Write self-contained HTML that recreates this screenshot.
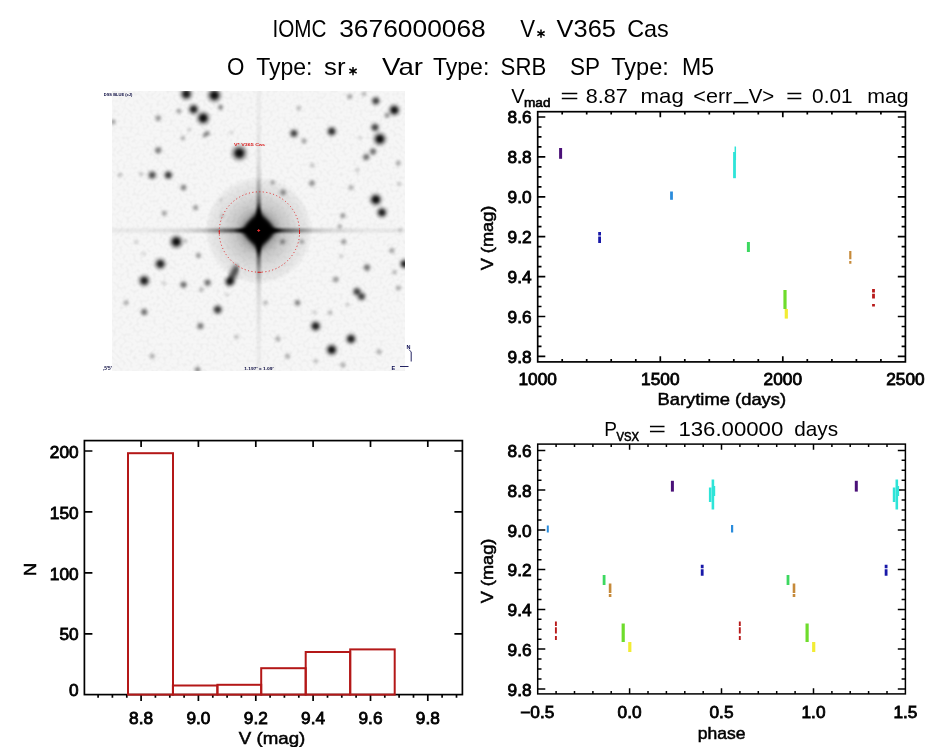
<!DOCTYPE html>
<html><head><meta charset="utf-8"><title>IOMC 3676000068</title>
<style>html,body{margin:0;padding:0;background:#fff}svg{display:block}text{font-family:"Liberation Sans",sans-serif;fill:#000;opacity:.999}</style>
</head><body>
<svg width="944" height="747" viewBox="0 0 944 747">
<rect width="944" height="747" fill="#fff"/>
<text x="272.4" y="37.3" font-size="23.4" textLength="54.0" lengthAdjust="spacingAndGlyphs" stroke="#000" stroke-width="0.0">IOMC</text>
<text x="339.2" y="37.3" font-size="23.4" textLength="146.6" lengthAdjust="spacingAndGlyphs" stroke="#000" stroke-width="0.0">3676000068</text>
<text x="520.2" y="37.3" font-size="23.4" textLength="14.8" lengthAdjust="spacingAndGlyphs" stroke="#000" stroke-width="0.0">V</text>
<path d="M541 29.400000000000002v8.4M537.35 31.50l7.31 4.20M537.35 35.70l7.31 -4.20" stroke="#000" stroke-width="1.5" fill="none"/>
<text x="556.6" y="37.3" font-size="23.4" textLength="59.3" lengthAdjust="spacingAndGlyphs" stroke="#000" stroke-width="0.0">V365</text>
<text x="627.2" y="37.3" font-size="23.4" textLength="41.6" lengthAdjust="spacingAndGlyphs" stroke="#000" stroke-width="0.0">Cas</text>
<text x="227.0" y="74.8" font-size="23.4" textLength="17.4" lengthAdjust="spacingAndGlyphs" stroke="#000" stroke-width="0.0">O</text>
<text x="256.2" y="74.8" font-size="23.4" textLength="56.3" lengthAdjust="spacingAndGlyphs" stroke="#000" stroke-width="0.0">Type:</text>
<text x="324.1" y="74.8" font-size="23.4" textLength="21.5" lengthAdjust="spacingAndGlyphs" stroke="#000" stroke-width="0.0">sr</text>
<path d="M353 66.89999999999999v8.4M349.35 69.00l7.31 4.20M349.35 73.20l7.31 -4.20" stroke="#000" stroke-width="1.5" fill="none"/>
<text x="382.1" y="74.8" font-size="23.4" textLength="41.0" lengthAdjust="spacingAndGlyphs" stroke="#000" stroke-width="0.0">Var</text>
<text x="433.0" y="74.8" font-size="23.4" textLength="56.3" lengthAdjust="spacingAndGlyphs" stroke="#000" stroke-width="0.0">Type:</text>
<text x="500.6" y="74.8" font-size="23.4" textLength="45.6" lengthAdjust="spacingAndGlyphs" stroke="#000" stroke-width="0.0">SRB</text>
<text x="570.1" y="74.8" font-size="23.4" textLength="30.0" lengthAdjust="spacingAndGlyphs" stroke="#000" stroke-width="0.0">SP</text>
<text x="611.2" y="74.8" font-size="23.4" textLength="57.6" lengthAdjust="spacingAndGlyphs" stroke="#000" stroke-width="0.0">Type:</text>
<text x="681.9" y="74.8" font-size="23.4" textLength="32.1" lengthAdjust="spacingAndGlyphs" stroke="#000" stroke-width="0.0">M5</text>
<defs>
<radialGradient id="sg"><stop offset="0" stop-color="#000" stop-opacity="1"/><stop offset="0.3" stop-color="#000" stop-opacity="0.85"/><stop offset="0.6" stop-color="#000" stop-opacity="0.32"/><stop offset="0.85" stop-color="#000" stop-opacity="0.07"/><stop offset="1" stop-color="#000" stop-opacity="0"/></radialGradient>
<radialGradient id="halo"><stop offset="0" stop-color="#000" stop-opacity="0.6"/><stop offset="0.25" stop-color="#000" stop-opacity="0.36"/><stop offset="0.45" stop-color="#000" stop-opacity="0.19"/><stop offset="0.7" stop-color="#000" stop-opacity="0.10"/><stop offset="0.92" stop-color="#000" stop-opacity="0.05"/><stop offset="1" stop-color="#000" stop-opacity="0"/></radialGradient>
<linearGradient id="sph" x1="0" x2="1" y1="0" y2="0"><stop offset="0.0000" stop-color="#000" stop-opacity="0.06"/><stop offset="0.1253" stop-color="#000" stop-opacity="0.06"/><stop offset="0.2447" stop-color="#000" stop-opacity="0.11"/><stop offset="0.3130" stop-color="#000" stop-opacity="0.2"/><stop offset="0.3642" stop-color="#000" stop-opacity="0.4"/><stop offset="0.4119" stop-color="#000" stop-opacity="0.6"/><stop offset="0.4392" stop-color="#000" stop-opacity="0.95"/><stop offset="0.5007" stop-color="#000" stop-opacity="1"/><stop offset="0.5621" stop-color="#000" stop-opacity="0.95"/><stop offset="0.5894" stop-color="#000" stop-opacity="0.6"/><stop offset="0.6372" stop-color="#000" stop-opacity="0.4"/><stop offset="0.6884" stop-color="#000" stop-opacity="0.2"/><stop offset="0.7567" stop-color="#000" stop-opacity="0.11"/><stop offset="0.8761" stop-color="#000" stop-opacity="0.06"/><stop offset="1.0000" stop-color="#000" stop-opacity="0.06"/></linearGradient>
<linearGradient id="spv" x1="0" x2="0" y1="0" y2="1"><stop offset="0.0000" stop-color="#000" stop-opacity="0.045"/><stop offset="0.1054" stop-color="#000" stop-opacity="0.045"/><stop offset="0.2304" stop-color="#000" stop-opacity="0.08"/><stop offset="0.3018" stop-color="#000" stop-opacity="0.14"/><stop offset="0.3554" stop-color="#000" stop-opacity="0.28"/><stop offset="0.3982" stop-color="#000" stop-opacity="0.5"/><stop offset="0.4268" stop-color="#000" stop-opacity="0.95"/><stop offset="0.4982" stop-color="#000" stop-opacity="1"/><stop offset="0.5696" stop-color="#000" stop-opacity="0.95"/><stop offset="0.5982" stop-color="#000" stop-opacity="0.5"/><stop offset="0.6411" stop-color="#000" stop-opacity="0.28"/><stop offset="0.6946" stop-color="#000" stop-opacity="0.14"/><stop offset="0.7661" stop-color="#000" stop-opacity="0.08"/><stop offset="0.8911" stop-color="#000" stop-opacity="0.045"/><stop offset="1.0000" stop-color="#000" stop-opacity="0.045"/></linearGradient>
<clipPath id="ic"><rect x="112" y="91" width="293" height="280"/></clipPath>
<filter id="bl" x="-5%" y="-300%" width="110%" height="700%"><feGaussianBlur stdDeviation="1.2"/></filter><filter id="blv" x="-300%" y="-5%" width="700%" height="110%"><feGaussianBlur stdDeviation="1.2"/></filter>
<filter id="bl2" x="-50%" y="-50%" width="200%" height="200%"><feGaussianBlur stdDeviation="2.2"/></filter>
<filter id="sb" x="-2%" y="-2%" width="104%" height="104%"><feGaussianBlur stdDeviation="0.9"/></filter>
<filter id="nz" x="0" y="0" width="100%" height="100%"><feTurbulence type="fractalNoise" baseFrequency="0.3" numOctaves="1" seed="7" result="t"/><feColorMatrix type="matrix" values="0 0 0 0 0  0 0 0 0 0  0 0 0 0 0  0.9 0 0 0 -0.38"/></filter>
</defs>
<rect x="112" y="91" width="293" height="280" fill="#f6f6f6"/>
<rect x="112" y="91" width="293" height="280" filter="url(#nz)" opacity="0.10"/>
<g clip-path="url(#ic)">
<g filter="url(#sb)">
<circle cx="186.3" cy="94" r="8.5" fill="url(#sg)" opacity="0.95"/>
<circle cx="214.4" cy="95.3" r="9.5" fill="url(#sg)" opacity="1.0"/>
<circle cx="193.6" cy="109.3" r="7.5" fill="url(#sg)" opacity="0.9"/>
<circle cx="203.2" cy="118.1" r="9.0" fill="url(#sg)" opacity="1.0"/>
<circle cx="220.5" cy="107.3" r="4.7" fill="url(#sg)" opacity="0.425"/>
<circle cx="207.2" cy="133.4" r="4.7" fill="url(#sg)" opacity="0.425"/>
<circle cx="204.5" cy="135.5" r="4.2" fill="url(#sg)" opacity="0.297"/>
<circle cx="158.2" cy="118.1" r="5.2" fill="url(#sg)" opacity="0.383"/>
<circle cx="239.3" cy="153.1" r="10.5" fill="url(#sg)" opacity="1.0"/>
<circle cx="158.2" cy="150.3" r="5.7" fill="url(#sg)" opacity="0.51"/>
<circle cx="152.2" cy="175.1" r="6.5" fill="url(#sg)" opacity="0.7"/>
<circle cx="168.3" cy="175.1" r="6.5" fill="url(#sg)" opacity="0.8"/>
<circle cx="183.5" cy="187.6" r="5.2" fill="url(#sg)" opacity="0.468"/>
<circle cx="195.6" cy="207.7" r="4.7" fill="url(#sg)" opacity="0.383"/>
<circle cx="164.3" cy="213.3" r="4.7" fill="url(#sg)" opacity="0.34"/>
<circle cx="120" cy="175" r="4.2" fill="url(#sg)" opacity="0.212"/>
<circle cx="176.3" cy="241.8" r="9.0" fill="url(#sg)" opacity="1.0"/>
<circle cx="160.3" cy="263.9" r="8.0" fill="url(#sg)" opacity="0.9"/>
<circle cx="144.2" cy="280.7" r="8.0" fill="url(#sg)" opacity="0.92"/>
<circle cx="183.5" cy="284.7" r="5.7" fill="url(#sg)" opacity="0.552"/>
<circle cx="207.6" cy="282.7" r="5.7" fill="url(#sg)" opacity="0.552"/>
<circle cx="229.7" cy="281.5" r="7.5" fill="url(#sg)" opacity="0.92"/>
<circle cx="198.4" cy="255.4" r="4.7" fill="url(#sg)" opacity="0.383"/>
<circle cx="217.7" cy="309.6" r="7.0" fill="url(#sg)" opacity="0.8"/>
<circle cx="144.2" cy="312" r="5.7" fill="url(#sg)" opacity="0.552"/>
<circle cx="126" cy="302.8" r="4.7" fill="url(#sg)" opacity="0.297"/>
<circle cx="200.4" cy="326.1" r="5.7" fill="url(#sg)" opacity="0.51"/>
<circle cx="152.2" cy="356.2" r="4.7" fill="url(#sg)" opacity="0.297"/>
<circle cx="197.6" cy="369.8" r="5.2" fill="url(#sg)" opacity="0.425"/>
<circle cx="293.9" cy="133.4" r="6.5" fill="url(#sg)" opacity="0.75"/>
<circle cx="331.7" cy="131.4" r="7.0" fill="url(#sg)" opacity="0.85"/>
<circle cx="304" cy="141" r="4.7" fill="url(#sg)" opacity="0.34"/>
<circle cx="375.8" cy="100.9" r="6.5" fill="url(#sg)" opacity="0.75"/>
<circle cx="394.3" cy="110.1" r="8.0" fill="url(#sg)" opacity="0.97"/>
<circle cx="387" cy="115.3" r="4.7" fill="url(#sg)" opacity="0.383"/>
<circle cx="375" cy="127.4" r="6.5" fill="url(#sg)" opacity="0.75"/>
<circle cx="379.8" cy="139" r="9.0" fill="url(#sg)" opacity="1.0"/>
<circle cx="373" cy="151.5" r="5.7" fill="url(#sg)" opacity="0.552"/>
<circle cx="366.2" cy="157.1" r="5.7" fill="url(#sg)" opacity="0.552"/>
<circle cx="398.3" cy="163.1" r="4.7" fill="url(#sg)" opacity="0.297"/>
<circle cx="272.7" cy="182.4" r="4.2" fill="url(#sg)" opacity="0.297"/>
<circle cx="312" cy="183.2" r="5.2" fill="url(#sg)" opacity="0.425"/>
<circle cx="283.1" cy="192.4" r="5.2" fill="url(#sg)" opacity="0.425"/>
<circle cx="351" cy="187.6" r="4.7" fill="url(#sg)" opacity="0.297"/>
<circle cx="375.8" cy="199.6" r="8.5" fill="url(#sg)" opacity="1.0"/>
<circle cx="381.9" cy="212.5" r="7.5" fill="url(#sg)" opacity="0.92"/>
<circle cx="342.9" cy="215.7" r="4.7" fill="url(#sg)" opacity="0.383"/>
<circle cx="339.7" cy="226.5" r="4.2" fill="url(#sg)" opacity="0.297"/>
<circle cx="343.7" cy="241.8" r="4.7" fill="url(#sg)" opacity="0.383"/>
<circle cx="282.7" cy="241.8" r="4.7" fill="url(#sg)" opacity="0.383"/>
<circle cx="302" cy="241.8" r="4.2" fill="url(#sg)" opacity="0.297"/>
<circle cx="367" cy="267.5" r="5.7" fill="url(#sg)" opacity="0.552"/>
<circle cx="404.5" cy="263.9" r="7.0" fill="url(#sg)" opacity="0.92"/>
<circle cx="391.9" cy="250.6" r="4.7" fill="url(#sg)" opacity="0.34"/>
<circle cx="357" cy="291.6" r="6.5" fill="url(#sg)" opacity="0.75"/>
<circle cx="361.5" cy="296.5" r="6.5" fill="url(#sg)" opacity="0.75"/>
<circle cx="335.7" cy="279.5" r="5.2" fill="url(#sg)" opacity="0.383"/>
<circle cx="398.3" cy="288" r="4.7" fill="url(#sg)" opacity="0.297"/>
<circle cx="297.5" cy="302.8" r="5.2" fill="url(#sg)" opacity="0.468"/>
<circle cx="315.6" cy="326.1" r="7.5" fill="url(#sg)" opacity="0.92"/>
<circle cx="330" cy="312.8" r="4.2" fill="url(#sg)" opacity="0.255"/>
<circle cx="351" cy="338.9" r="7.5" fill="url(#sg)" opacity="0.92"/>
<circle cx="331.7" cy="349.8" r="8.0" fill="url(#sg)" opacity="0.97"/>
<circle cx="277.9" cy="338.9" r="4.7" fill="url(#sg)" opacity="0.297"/>
<circle cx="287.5" cy="356.2" r="4.7" fill="url(#sg)" opacity="0.297"/>
<circle cx="379" cy="351.8" r="4.7" fill="url(#sg)" opacity="0.297"/>
<circle cx="342.9" cy="365" r="4.7" fill="url(#sg)" opacity="0.297"/>
<circle cx="265.4" cy="302.8" r="4.2" fill="url(#sg)" opacity="0.255"/>
<circle cx="236.5" cy="336.9" r="4.2" fill="url(#sg)" opacity="0.212"/>
<circle cx="298.7" cy="108.1" r="4.2" fill="url(#sg)" opacity="0.255"/>
<circle cx="312.2" cy="165.3" r="4.2" fill="url(#sg)" opacity="0.212"/>
<circle cx="349.8" cy="96.6" r="4.7" fill="url(#sg)" opacity="0.34"/>
<circle cx="364" cy="94" r="4.2" fill="url(#sg)" opacity="0.255"/>
<circle cx="113" cy="122" r="4.7" fill="url(#sg)" opacity="0.34"/>
<circle cx="141" cy="174" r="3.7" fill="url(#sg)" opacity="0.212"/>
<circle cx="136" cy="242" r="3.7" fill="url(#sg)" opacity="0.17"/>
<circle cx="394.5" cy="272.2" r="4.2" fill="url(#sg)" opacity="0.255"/>
<circle cx="357.4" cy="170" r="4.2" fill="url(#sg)" opacity="0.17"/>
<circle cx="399" cy="184" r="3.7" fill="url(#sg)" opacity="0.212"/>
<circle cx="222" cy="216" r="3.7" fill="url(#sg)" opacity="0.17"/>
<circle cx="178.9" cy="111.1" r="4.5" fill="url(#sg)" opacity="0.34"/>
<circle cx="189.4" cy="129.6" r="3.7" fill="url(#sg)" opacity="0.17"/>
<circle cx="182.9" cy="138.2" r="4.2" fill="url(#sg)" opacity="0.272"/>
<circle cx="231.5" cy="132.8" r="3.7" fill="url(#sg)" opacity="0.128"/>
<circle cx="359.8" cy="137.6" r="3.7" fill="url(#sg)" opacity="0.128"/>
<circle cx="143.8" cy="253.7" r="3.7" fill="url(#sg)" opacity="0.128"/>
<circle cx="164" cy="283.2" r="3.7" fill="url(#sg)" opacity="0.17"/>
<circle cx="201.4" cy="289.6" r="4.2" fill="url(#sg)" opacity="0.255"/>
<circle cx="226.9" cy="294.7" r="3.7" fill="url(#sg)" opacity="0.128"/>
<circle cx="341.3" cy="256.1" r="3.7" fill="url(#sg)" opacity="0.17"/>
<circle cx="347.3" cy="304.7" r="3.7" fill="url(#sg)" opacity="0.17"/>
<circle cx="314.6" cy="312.3" r="3.7" fill="url(#sg)" opacity="0.17"/>
<circle cx="315.8" cy="361.1" r="4.2" fill="url(#sg)" opacity="0.212"/>
<circle cx="400" cy="230" r="3.7" fill="url(#sg)" opacity="0.17"/>
<circle cx="221" cy="200" r="3.7" fill="url(#sg)" opacity="0.102"/>
<circle cx="185.5" cy="241" r="3.7" fill="url(#sg)" opacity="0.212"/>
<path d="M231 279L236.3 268.5" stroke="#000" stroke-opacity="0.8" stroke-width="6" stroke-linecap="round" filter="url(#bl2)"/>
</g>
<circle cx="258.7" cy="230.5" r="54" fill="url(#halo)"/>
<rect x="112" y="228.4" width="293" height="4.2" fill="url(#sph)" filter="url(#bl)"/>
<rect x="256.59999999999997" y="91" width="4.2" height="280" fill="url(#spv)" filter="url(#blv)"/>
<polygon points="240.7,230.5 250.7,220.5 258.7,209.5 266.7,220.5 276.7,230.5 266.7,240.5 258.7,251.5 250.7,240.5" fill="#000" filter="url(#bl2)"/>
<circle cx="258.7" cy="230.5" r="12.5" fill="#000" filter="url(#bl2)"/>
</g>
<circle cx="259.4" cy="232" r="40.2" fill="none" stroke="#e03030" stroke-width="1" stroke-dasharray="1.1 2.4"/>
<path d="M219.3 230v4M299.5 230v4M257.5 272.3h4" stroke="#c22" stroke-width="1" fill="none"/>
<path d="M257.2 230.5h3M258.7 229.0v3" stroke="#e33" stroke-width="0.9"/>
<text x="234" y="145.6" font-size="4.4" font-weight="bold" style="fill:#d81818" textLength="31" lengthAdjust="spacingAndGlyphs">V* V365 Cas</text>
<text x="103.8" y="96.3" font-size="4.2" font-weight="bold" style="fill:#06063c" textLength="28.5" lengthAdjust="spacingAndGlyphs">DSS BLUE (xJ)</text>
<text x="102.8" y="369.6" font-size="4.6" font-weight="bold" style="fill:#06063c" textLength="9" lengthAdjust="spacingAndGlyphs">,5'5'</text>
<text x="244.2" y="370.2" font-size="4.2" font-weight="bold" style="fill:#06063c" textLength="29.5" lengthAdjust="spacingAndGlyphs">1.197' x 1.09'</text>
<path d="M411.2 352v9.5M400 366.5h8.5" stroke="#0a0a50" stroke-width="0.9" fill="none"/>
<path d="M409 349.5l2.2 2.5" stroke="#0a0a50" stroke-width="0.8" fill="none"/>
<text x="406.5" y="349" font-size="5.5" font-weight="bold" style="fill:#0a0a50">N</text>
<text x="391.5" y="369.5" font-size="5.5" font-weight="bold" style="fill:#0a0a50">E</text>
<path d="M660.3 361.9v-5.6M660.3 111.7v5.6M782.8 361.9v-5.6M782.8 111.7v5.6M562.2 361.9v-2.9M562.2 111.7v2.9M586.7 361.9v-2.9M586.7 111.7v2.9M611.2 361.9v-2.9M611.2 111.7v2.9M635.8 361.9v-2.9M635.8 111.7v2.9M684.8 361.9v-2.9M684.8 111.7v2.9M709.3 361.9v-2.9M709.3 111.7v2.9M733.8 361.9v-2.9M733.8 111.7v2.9M758.3 361.9v-2.9M758.3 111.7v2.9M807.3 361.9v-2.9M807.3 111.7v2.9M831.9 361.9v-2.9M831.9 111.7v2.9M856.4 361.9v-2.9M856.4 111.7v2.9M880.9 361.9v-2.9M880.9 111.7v2.9M537.7 117.0h7.6M905.4 117.0h-7.6M537.7 156.9h7.6M905.4 156.9h-7.6M537.7 196.8h7.6M905.4 196.8h-7.6M537.7 236.7h7.6M905.4 236.7h-7.6M537.7 276.6h7.6M905.4 276.6h-7.6M537.7 316.5h7.6M905.4 316.5h-7.6M537.7 356.4h7.6M905.4 356.4h-7.6M537.7 127.0h3.8M905.4 127.0h-3.8M537.7 136.9h3.8M905.4 136.9h-3.8M537.7 146.9h3.8M905.4 146.9h-3.8M537.7 166.9h3.8M905.4 166.9h-3.8M537.7 176.9h3.8M905.4 176.9h-3.8M537.7 186.8h3.8M905.4 186.8h-3.8M537.7 206.8h3.8M905.4 206.8h-3.8M537.7 216.8h3.8M905.4 216.8h-3.8M537.7 226.7h3.8M905.4 226.7h-3.8M537.7 246.7h3.8M905.4 246.7h-3.8M537.7 256.6h3.8M905.4 256.6h-3.8M537.7 266.6h3.8M905.4 266.6h-3.8M537.7 286.6h3.8M905.4 286.6h-3.8M537.7 296.6h3.8M905.4 296.6h-3.8M537.7 306.5h3.8M905.4 306.5h-3.8M537.7 326.5h3.8M905.4 326.5h-3.8M537.7 336.4h3.8M905.4 336.4h-3.8M537.7 346.4h3.8M905.4 346.4h-3.8" stroke="#000" stroke-width="1.7" fill="none"/>
<rect x="537.7" y="111.7" width="367.7" height="250.2" fill="none" stroke="#000" stroke-width="1.7"/>
<text transform="translate(537.7,385.2) scale(1.04,1)" font-size="16.6" text-anchor="middle" stroke="#000" stroke-width="0.8">1000</text>
<text transform="translate(660.3,385.2) scale(1.04,1)" font-size="16.6" text-anchor="middle" stroke="#000" stroke-width="0.8">1500</text>
<text transform="translate(782.8,385.2) scale(1.04,1)" font-size="16.6" text-anchor="middle" stroke="#000" stroke-width="0.8">2000</text>
<text transform="translate(905.4,385.2) scale(1.04,1)" font-size="16.6" text-anchor="middle" stroke="#000" stroke-width="0.8">2500</text>
<text transform="translate(531.6,123.4) scale(1.04,1)" font-size="16.6" text-anchor="end" stroke="#000" stroke-width="0.8">8.6</text>
<text transform="translate(531.6,163.3) scale(1.04,1)" font-size="16.6" text-anchor="end" stroke="#000" stroke-width="0.8">8.8</text>
<text transform="translate(531.6,203.2) scale(1.04,1)" font-size="16.6" text-anchor="end" stroke="#000" stroke-width="0.8">9.0</text>
<text transform="translate(531.6,243.1) scale(1.04,1)" font-size="16.6" text-anchor="end" stroke="#000" stroke-width="0.8">9.2</text>
<text transform="translate(531.6,283.0) scale(1.04,1)" font-size="16.6" text-anchor="end" stroke="#000" stroke-width="0.8">9.4</text>
<text transform="translate(531.6,322.9) scale(1.04,1)" font-size="16.6" text-anchor="end" stroke="#000" stroke-width="0.8">9.6</text>
<text transform="translate(531.6,362.8) scale(1.04,1)" font-size="16.6" text-anchor="end" stroke="#000" stroke-width="0.8">9.8</text>
<text x="657.5" y="404.6" font-size="17" textLength="128.6" lengthAdjust="spacingAndGlyphs" stroke="#000" stroke-width="0.5">Barytime (days)</text>
<text transform="translate(492.8,238.0) rotate(-90) scale(1.07,1)" font-size="17" text-anchor="middle" stroke="#000" stroke-width="0.5">V (mag)</text>
<text x="511.3" y="102.5" font-size="21" textLength="13.4" lengthAdjust="spacingAndGlyphs" stroke="#000" stroke-width="0.0">V</text>
<text x="524" y="106.8" font-size="12.5" textLength="26.5" lengthAdjust="spacingAndGlyphs" stroke="#000" stroke-width="0.6">mad</text>
<text x="560.2" y="102.5" font-size="21" textLength="18.6" lengthAdjust="spacingAndGlyphs" stroke="#000" stroke-width="0.0">=</text>
<text x="585.8" y="102.5" font-size="21" textLength="41.9" lengthAdjust="spacingAndGlyphs" stroke="#000" stroke-width="0.0">8.87</text>
<text x="640.6" y="102.5" font-size="21" textLength="43.2" lengthAdjust="spacingAndGlyphs" stroke="#000" stroke-width="0.0">mag</text>
<text x="693.3" y="102.5" font-size="21" textLength="39.0" lengthAdjust="spacingAndGlyphs" stroke="#000" stroke-width="0.0">&lt;err</text>
<path d="M733.7 102.7h14.6" stroke="#000" stroke-width="1.5"/>
<text x="748.7" y="102.5" font-size="21" textLength="25.6" lengthAdjust="spacingAndGlyphs" stroke="#000" stroke-width="0.0">V&gt;</text>
<text x="786.1" y="102.5" font-size="21" textLength="16.7" lengthAdjust="spacingAndGlyphs" stroke="#000" stroke-width="0.0">=</text>
<text x="812.1" y="102.5" font-size="21" textLength="40.5" lengthAdjust="spacingAndGlyphs" stroke="#000" stroke-width="0.0">0.01</text>
<text x="867.2" y="102.5" font-size="21" textLength="41.5" lengthAdjust="spacingAndGlyphs" stroke="#000" stroke-width="0.0">mag</text>
<line x1="560.6" y1="148.0" x2="560.6" y2="158.8" stroke="#4a1078" stroke-width="3.0"/>
<line x1="599.6" y1="232.0" x2="599.6" y2="243.0" stroke="#1818a8" stroke-width="2.8" stroke-dasharray="3.6 0.9 9 0"/>
<line x1="671.5" y1="191.5" x2="671.5" y2="199.8" stroke="#2a8cdc" stroke-width="2.8"/>
<line x1="735.3" y1="146.5" x2="735.3" y2="160.0" stroke="#2ee4d8" stroke-width="1.5"/>
<line x1="734.5" y1="152.0" x2="734.5" y2="178.2" stroke="#2ee4d8" stroke-width="2.8"/>
<line x1="748.4" y1="242.0" x2="748.4" y2="252.0" stroke="#3cd860" stroke-width="3.0"/>
<line x1="785.0" y1="290.0" x2="785.0" y2="309.0" stroke="#6edc2c" stroke-width="3.2"/>
<line x1="786.3" y1="309.0" x2="786.3" y2="318.6" stroke="#f2ec34" stroke-width="3.2"/>
<line x1="850.3" y1="251.0" x2="850.3" y2="263.7" stroke="#c68a3a" stroke-width="2.2" stroke-dasharray="8.3 1.8 2.6 0"/>
<line x1="873.5" y1="289.0" x2="873.5" y2="306.4" stroke="#b81a1a" stroke-width="2.8" stroke-dasharray="3.5 1.2 4.9 5.4 2.4 0"/>
<path d="M629.6 693.9v-5.6M629.6 444.1v5.6M721.5 693.9v-5.6M721.5 444.1v5.6M813.5 693.9v-5.6M813.5 444.1v5.6M556.1 693.9v-2.9M556.1 444.1v2.9M574.5 693.9v-2.9M574.5 444.1v2.9M592.9 693.9v-2.9M592.9 444.1v2.9M611.2 693.9v-2.9M611.2 444.1v2.9M648.0 693.9v-2.9M648.0 444.1v2.9M666.4 693.9v-2.9M666.4 444.1v2.9M684.8 693.9v-2.9M684.8 444.1v2.9M703.2 693.9v-2.9M703.2 444.1v2.9M739.9 693.9v-2.9M739.9 444.1v2.9M758.3 693.9v-2.9M758.3 444.1v2.9M776.7 693.9v-2.9M776.7 444.1v2.9M795.1 693.9v-2.9M795.1 444.1v2.9M831.9 693.9v-2.9M831.9 444.1v2.9M850.2 693.9v-2.9M850.2 444.1v2.9M868.6 693.9v-2.9M868.6 444.1v2.9M887.0 693.9v-2.9M887.0 444.1v2.9M537.7 450.4h7.6M905.4 450.4h-7.6M537.7 490.1h7.6M905.4 490.1h-7.6M537.7 529.9h7.6M905.4 529.9h-7.6M537.7 569.6h7.6M905.4 569.6h-7.6M537.7 609.4h7.6M905.4 609.4h-7.6M537.7 649.1h7.6M905.4 649.1h-7.6M537.7 688.9h7.6M905.4 688.9h-7.6M537.7 460.3h3.8M905.4 460.3h-3.8M537.7 470.3h3.8M905.4 470.3h-3.8M537.7 480.2h3.8M905.4 480.2h-3.8M537.7 500.1h3.8M905.4 500.1h-3.8M537.7 510.0h3.8M905.4 510.0h-3.8M537.7 520.0h3.8M905.4 520.0h-3.8M537.7 539.8h3.8M905.4 539.8h-3.8M537.7 549.8h3.8M905.4 549.8h-3.8M537.7 559.7h3.8M905.4 559.7h-3.8M537.7 579.6h3.8M905.4 579.6h-3.8M537.7 589.5h3.8M905.4 589.5h-3.8M537.7 599.5h3.8M905.4 599.5h-3.8M537.7 619.3h3.8M905.4 619.3h-3.8M537.7 629.3h3.8M905.4 629.3h-3.8M537.7 639.2h3.8M905.4 639.2h-3.8M537.7 659.1h3.8M905.4 659.1h-3.8M537.7 669.0h3.8M905.4 669.0h-3.8M537.7 679.0h3.8M905.4 679.0h-3.8" stroke="#000" stroke-width="1.5" fill="none"/>
<rect x="537.7" y="444.1" width="367.7" height="249.8" fill="none" stroke="#000" stroke-width="1.5"/>
<text transform="translate(537.3,718.4) scale(1.04,1)" font-size="16.6" text-anchor="middle" stroke="#000" stroke-width="0.8">−0.5</text>
<text transform="translate(629.6,718.4) scale(1.04,1)" font-size="16.6" text-anchor="middle" stroke="#000" stroke-width="0.8">0.0</text>
<text transform="translate(721.5,718.4) scale(1.04,1)" font-size="16.6" text-anchor="middle" stroke="#000" stroke-width="0.8">0.5</text>
<text transform="translate(813.5,718.4) scale(1.04,1)" font-size="16.6" text-anchor="middle" stroke="#000" stroke-width="0.8">1.0</text>
<text transform="translate(905.4,718.4) scale(1.04,1)" font-size="16.6" text-anchor="middle" stroke="#000" stroke-width="0.8">1.5</text>
<text transform="translate(531.6,457.0) scale(1.04,1)" font-size="16.6" text-anchor="end" stroke="#000" stroke-width="0.8">8.6</text>
<text transform="translate(531.6,496.7) scale(1.04,1)" font-size="16.6" text-anchor="end" stroke="#000" stroke-width="0.8">8.8</text>
<text transform="translate(531.6,536.5) scale(1.04,1)" font-size="16.6" text-anchor="end" stroke="#000" stroke-width="0.8">9.0</text>
<text transform="translate(531.6,576.2) scale(1.04,1)" font-size="16.6" text-anchor="end" stroke="#000" stroke-width="0.8">9.2</text>
<text transform="translate(531.6,616.0) scale(1.04,1)" font-size="16.6" text-anchor="end" stroke="#000" stroke-width="0.8">9.4</text>
<text transform="translate(531.6,655.8) scale(1.04,1)" font-size="16.6" text-anchor="end" stroke="#000" stroke-width="0.8">9.6</text>
<text transform="translate(531.6,695.5) scale(1.04,1)" font-size="16.6" text-anchor="end" stroke="#000" stroke-width="0.8">9.8</text>
<text x="697.7" y="739.3" font-size="17" textLength="47.8" lengthAdjust="spacingAndGlyphs" stroke="#000" stroke-width="0.5">phase</text>
<text transform="translate(492.8,571.0) rotate(-90) scale(1.07,1)" font-size="17" text-anchor="middle" stroke="#000" stroke-width="0.5">V (mag)</text>
<text x="604.3" y="435.9" font-size="21" textLength="12.7" lengthAdjust="spacingAndGlyphs" stroke="#000" stroke-width="0.0">P</text>
<text x="616.6" y="440.6" font-size="12.5" textLength="22.5" lengthAdjust="spacingAndGlyphs" stroke="#000" stroke-width="0.6">VSX</text>
<text x="648.5" y="435.9" font-size="21" textLength="17.5" lengthAdjust="spacingAndGlyphs" stroke="#000" stroke-width="0.0">=</text>
<text x="678.4" y="435.9" font-size="21" textLength="104.9" lengthAdjust="spacingAndGlyphs" stroke="#000" stroke-width="0.0">136.00000</text>
<text x="794.2" y="435.9" font-size="21" textLength="43.9" lengthAdjust="spacingAndGlyphs" stroke="#000" stroke-width="0.0">days</text>
<line x1="672.4" y1="480.8" x2="672.4" y2="491.6" stroke="#4a1078" stroke-width="3.0"/>
<line x1="702.2" y1="564.7" x2="702.2" y2="575.7" stroke="#1818a8" stroke-width="2.8" stroke-dasharray="3.6 0.9 9 0"/>
<line x1="710.2" y1="487.5" x2="710.2" y2="502.0" stroke="#2ee4d8" stroke-width="2.6"/>
<line x1="712.9" y1="479.5" x2="712.9" y2="509.5" stroke="#2ee4d8" stroke-width="2.6"/>
<line x1="714.4" y1="486.0" x2="714.4" y2="496.0" stroke="#2ee4d8" stroke-width="1.6"/>
<line x1="604.1" y1="575.0" x2="604.1" y2="585.0" stroke="#3cd860" stroke-width="2.8"/>
<line x1="610.1" y1="583.5" x2="610.1" y2="597.0" stroke="#c68a3a" stroke-width="2.6" stroke-dasharray="9.4 1.2 3 0"/>
<line x1="555.9" y1="621.6" x2="555.9" y2="640.0" stroke="#b81a1a" stroke-width="1.9" stroke-dasharray="4.4 1.2 6.3 2.5 4 0"/>
<line x1="623.2" y1="623.5" x2="623.2" y2="642.0" stroke="#6edc2c" stroke-width="3.2"/>
<line x1="629.8" y1="642.0" x2="629.8" y2="652.0" stroke="#f2ec34" stroke-width="3.2"/>
<line x1="856.3" y1="480.8" x2="856.3" y2="491.6" stroke="#4a1078" stroke-width="3.0"/>
<line x1="886.1" y1="564.7" x2="886.1" y2="575.7" stroke="#1818a8" stroke-width="2.8" stroke-dasharray="3.6 0.9 9 0"/>
<line x1="894.1" y1="487.5" x2="894.1" y2="502.0" stroke="#2ee4d8" stroke-width="2.6"/>
<line x1="896.8" y1="479.5" x2="896.8" y2="509.5" stroke="#2ee4d8" stroke-width="2.6"/>
<line x1="898.3" y1="486.0" x2="898.3" y2="496.0" stroke="#2ee4d8" stroke-width="1.6"/>
<line x1="788.0" y1="575.0" x2="788.0" y2="585.0" stroke="#3cd860" stroke-width="2.8"/>
<line x1="794.0" y1="583.5" x2="794.0" y2="597.0" stroke="#c68a3a" stroke-width="2.6" stroke-dasharray="9.4 1.2 3 0"/>
<line x1="739.8" y1="621.6" x2="739.8" y2="640.0" stroke="#b81a1a" stroke-width="1.9" stroke-dasharray="4.4 1.2 6.3 2.5 4 0"/>
<line x1="807.1" y1="623.5" x2="807.1" y2="642.0" stroke="#6edc2c" stroke-width="3.2"/>
<line x1="813.7" y1="642.0" x2="813.7" y2="652.0" stroke="#f2ec34" stroke-width="3.2"/>
<line x1="547.8" y1="525.5" x2="547.8" y2="532.5" stroke="#2a8cdc" stroke-width="2.0"/>
<line x1="732.1" y1="525.0" x2="732.1" y2="532.5" stroke="#2a8cdc" stroke-width="2.2"/>
<path d="M141.1 694.6v6.4M141.1 440.6v6.4M198.4 694.6v6.4M198.4 440.6v6.4M255.8 694.6v6.4M255.8 440.6v6.4M313.1 694.6v6.4M313.1 440.6v6.4M370.5 694.6v6.4M370.5 440.6v6.4M427.8 694.6v6.4M427.8 440.6v6.4M98.1 694.6v3.2M112.4 694.6v3.2M126.8 694.6v3.2M155.4 694.6v3.2M169.8 694.6v3.2M184.1 694.6v3.2M212.8 694.6v3.2M227.1 694.6v3.2M241.4 694.6v3.2M270.1 694.6v3.2M284.4 694.6v3.2M298.8 694.6v3.2M327.5 694.6v3.2M341.8 694.6v3.2M356.1 694.6v3.2M384.8 694.6v3.2M399.1 694.6v3.2M413.5 694.6v3.2M442.1 694.6v3.2M456.5 694.6v3.2M84.4 633.8h8.0M462.4 633.8h-8.0M84.4 572.9h8.0M462.4 572.9h-8.0M84.4 511.9h8.0M462.4 511.9h-8.0M84.4 451.0h8.0M462.4 451.0h-8.0" stroke="#000" stroke-width="1.7" fill="none"/>
<rect x="84.4" y="440.6" width="378.0" height="254.0" fill="none" stroke="#000" stroke-width="1.7"/>
<rect x="128.0" y="453.2" width="45.0" height="241.4" fill="none" stroke="#b41818" stroke-width="2.0"/>
<rect x="172.9" y="685.5" width="44.5" height="9.1" fill="none" stroke="#b41818" stroke-width="2.0"/>
<rect x="217.4" y="684.8" width="43.8" height="9.8" fill="none" stroke="#b41818" stroke-width="2.0"/>
<rect x="261.2" y="668.2" width="44.5" height="26.4" fill="none" stroke="#b41818" stroke-width="2.0"/>
<rect x="305.7" y="652.0" width="44.5" height="42.6" fill="none" stroke="#b41818" stroke-width="2.0"/>
<rect x="350.2" y="649.4" width="44.5" height="45.2" fill="none" stroke="#b41818" stroke-width="2.0"/>
<text transform="translate(141.1,724.4) scale(1.04,1)" font-size="16.6" text-anchor="middle" stroke="#000" stroke-width="0.8">8.8</text>
<text transform="translate(198.4,724.4) scale(1.04,1)" font-size="16.6" text-anchor="middle" stroke="#000" stroke-width="0.8">9.0</text>
<text transform="translate(255.8,724.4) scale(1.04,1)" font-size="16.6" text-anchor="middle" stroke="#000" stroke-width="0.8">9.2</text>
<text transform="translate(313.1,724.4) scale(1.04,1)" font-size="16.6" text-anchor="middle" stroke="#000" stroke-width="0.8">9.4</text>
<text transform="translate(370.5,724.4) scale(1.04,1)" font-size="16.6" text-anchor="middle" stroke="#000" stroke-width="0.8">9.6</text>
<text transform="translate(427.8,724.4) scale(1.04,1)" font-size="16.6" text-anchor="middle" stroke="#000" stroke-width="0.8">9.8</text>
<text transform="translate(78.6,695.8) scale(1.04,1)" font-size="16.6" text-anchor="end" stroke="#000" stroke-width="0.8">0</text>
<text transform="translate(78.6,640.4) scale(1.04,1)" font-size="16.6" text-anchor="end" stroke="#000" stroke-width="0.8">50</text>
<text transform="translate(78.6,579.5) scale(1.04,1)" font-size="16.6" text-anchor="end" stroke="#000" stroke-width="0.8">100</text>
<text transform="translate(78.6,518.5) scale(1.04,1)" font-size="16.6" text-anchor="end" stroke="#000" stroke-width="0.8">150</text>
<text transform="translate(78.6,457.6) scale(1.04,1)" font-size="16.6" text-anchor="end" stroke="#000" stroke-width="0.8">200</text>
<text x="238.8" y="744.2" font-size="17" textLength="66.5" lengthAdjust="spacingAndGlyphs" stroke="#000" stroke-width="0.5">V (mag)</text>
<text transform="translate(35.5,569.5) rotate(-90) scale(1.07,1)" font-size="17" text-anchor="middle" stroke="#000" stroke-width="0.5">N</text>
</svg></body></html>
